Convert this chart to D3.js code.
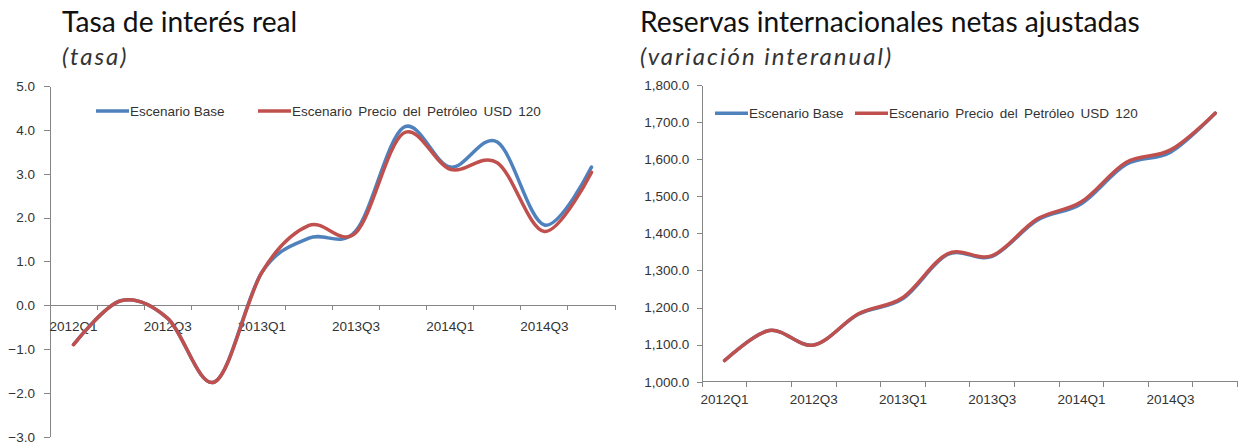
<!DOCTYPE html>
<html>
<head>
<meta charset="utf-8">
<script src="https://cdn.jsdelivr.net/npm/d3@7"></script>
<style>
  html, body { margin: 0; padding: 0; background: #fff; }
  svg { display: block; }
  .title { font-family: Lato, "Open Sans", sans-serif; fill: #111; }
  .subtitle { font-family: Lato, "Open Sans", sans-serif; font-style: italic; fill: #333; }
  .axis text, .legend text { font-family: "Liberation Sans", Arial, sans-serif; fill: #333; }
</style>
</head>
<body>
<svg id="chart" width="1238" height="445"></svg>
<script>
// Quarterly periods shared by both panels
const quarters = ["2012Q1","2012Q2","2012Q3","2012Q4","2013Q1","2013Q2","2013Q3","2013Q4","2014Q1","2014Q2","2014Q3","2014Q4"];
const seriesNames = ["Escenario Base", "Escenario Precio del Petróleo USD 120"];
const seriesColors = ["#4F81BD", "#C0504D"];

// Real interest rate (tasa)
const tasaBase     = [-0.90, 0.10, -0.30, -1.75, 0.75, 1.53, 1.70, 4.05, 3.15, 3.72, 1.83, 3.15];
const tasaPetroleo = [-0.90, 0.10, -0.30, -1.75, 0.75, 1.82, 1.66, 3.92, 3.10, 3.25, 1.68, 3.03];
const tasaTicks = [5, 4, 3, 2, 1, 0, -1, -2, -3];

// Adjusted net international reserves
const rinBase     = [1057, 1138, 1099, 1182, 1224, 1343, 1338, 1435, 1480, 1586, 1619, 1724];
const rinPetroleo = [1057, 1138, 1099, 1183, 1227, 1345, 1340, 1438, 1485, 1591, 1625, 1724];
const rinTicks = [1000, 1100, 1200, 1300, 1400, 1500, 1600, 1700, 1800];

const svg = d3.select("#chart");
const fmt1 = d3.format(",.1f");

function drawPanel(opts) {
  const g = svg.append("g");

  g.append("text").attr("class", "title")
    .attr("x", opts.titleX).attr("y", 32)
    .style("font-size", "28.2px").text(opts.title);
  g.append("text").attr("class", "subtitle")
    .attr("x", opts.titleX).attr("y", 65)
    .style("font-size", "24px")
    .style("letter-spacing", "2px")
    .text(opts.subtitle);

  const x = d3.scaleBand().domain(quarters).range([opts.left, opts.right]);
  const y = d3.scaleLinear().domain(opts.yDomain).range([opts.bottom, opts.top]);

  // value axis
  const yAxis = g.append("g").attr("class", "axis")
    .attr("transform", `translate(${opts.left},0)`)
    .call(d3.axisLeft(y).tickValues(opts.yTicks).tickFormat(fmt1)
      .tickSize(opts.yTickSize).tickPadding(opts.yPad).tickSizeOuter(0));
  yAxis.selectAll("text").style("font-size", "13.5px");

  // category axis: labels on every other quarter, ticks between categories
  const y0 = y(opts.crossAt);
  const xAxis = g.append("g").attr("class", "axis")
    .attr("transform", `translate(0,${y0})`)
    .call(d3.axisBottom(x).tickSize(0).tickPadding(opts.xPad)
      .tickFormat((d, i) => i % 2 === 0 ? d : ""));
  xAxis.select(".domain").remove();
  xAxis.selectAll("text").style("font-size", "13.5px");

  const edges = quarters.map(q => x(q)).concat([opts.right]);
  xAxis.selectAll("line.edge").data(edges).enter().append("line")
    .attr("class", "edge")
    .attr("x1", d => d).attr("x2", d => d)
    .attr("y1", 0).attr("y2", 5);
  xAxis.append("line")
    .attr("x1", opts.left).attr("x2", opts.right).attr("y1", 0).attr("y2", 0);

  g.selectAll(".axis path.domain, .axis line")
    .attr("stroke", "#868686").attr("stroke-width", 1).attr("shape-rendering", "crispEdges");

  // smoothed series lines
  const line = d3.line()
    .x((d, i) => x(quarters[i]) + x.bandwidth() / 2)
    .y(d => y(d))
    .curve(d3.curveCatmullRom.alpha(0));

  opts.series.forEach((vals, k) => {
    g.append("path").datum(vals)
      .attr("d", line)
      .attr("fill", "none")
      .attr("stroke", seriesColors[k])
      .attr("stroke-width", 3.5)
      .attr("stroke-linejoin", "round")
      .attr("stroke-linecap", "round");
  });

  // legend
  const lg = g.append("g").attr("class", "legend");
  opts.legend.forEach((it, k) => {
    lg.append("line")
      .attr("x1", it.x).attr("x2", it.x + 33)
      .attr("y1", opts.legendY).attr("y2", opts.legendY)
      .attr("stroke", seriesColors[k]).attr("stroke-width", 3.5);
    lg.append("text")
      .attr("x", it.x + 34).attr("y", opts.legendY)
      .attr("dy", "0.35em")
      .style("font-size", "13.5px")
      .style("word-spacing", k === 0 ? "0px" : "2.5px")
      .text(seriesNames[k]);
  });
}

drawPanel({
  title: "Tasa de interés real",
  subtitle: "(tasa)",
  titleX: 62,
  left: 50, right: 615, top: 86, bottom: 436.7,
  yDomain: [-3, 5], yTicks: tasaTicks, crossAt: 0,
  yTickSize: 6, yPad: 9, xPad: 16,
  series: [tasaBase, tasaPetroleo],
  legendY: 111,
  legend: [{x: 96}, {x: 258}]
});

drawPanel({
  title: "Reservas internacionales netas ajustadas",
  subtitle: "(variación interanual)",
  titleX: 640,
  left: 702.3, right: 1237.5, top: 85, bottom: 381.7,
  yDomain: [1000, 1800], yTicks: rinTicks, crossAt: 1000,
  yTickSize: 5, yPad: 8, xPad: 13,
  series: [rinBase, rinPetroleo],
  legendY: 113.3,
  legend: [{x: 715}, {x: 855}]
});
</script>
</body>
</html>
